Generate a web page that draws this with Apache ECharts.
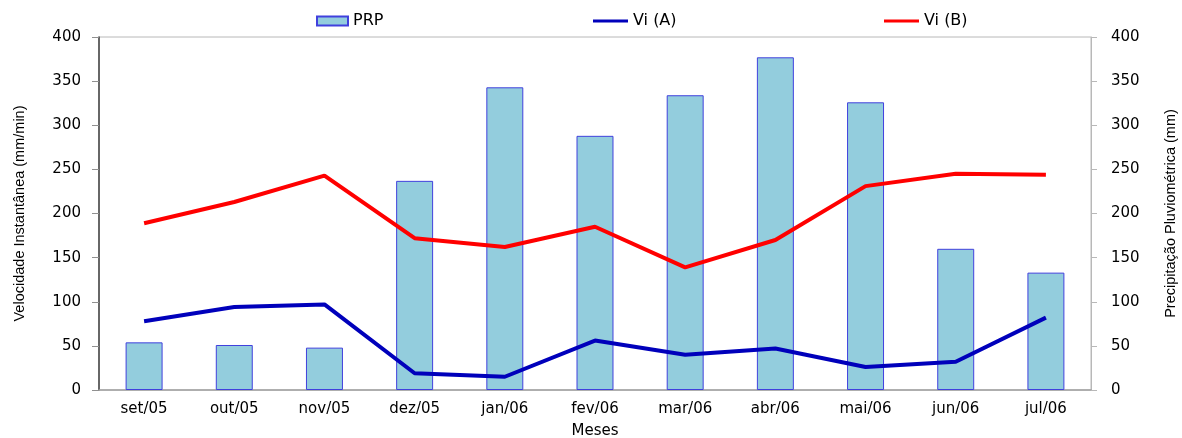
<!DOCTYPE html>
<html><head><meta charset="utf-8">
<script src="https://cdn.jsdelivr.net/npm/echarts@6/dist/echarts.min.js"></script>
<style>html,body{margin:0;padding:0;background:#fff}#c{width:1182px;height:438px}</style>
</head><body><div id="c"></div>
<script>
const categories = ['set/05','out/05','nov/05','dez/05','jan/06','fev/06','mar/06','abr/06','mai/06','jun/06','jul/06'];
const prp = [54, 51, 48, 237, 343, 288, 334, 377, 326, 160, 133];
const viA = [78, 94, 97, 19, 15, 56, 40, 47, 26, 32, 82];
const viB = [189, 213, 243, 172, 162, 185, 139, 170, 231, 245, 244];

const font = '"DejaVu Sans", Verdana, sans-serif';
const titleFont = '"Liberation Sans", Arial, sans-serif';
const chart = echarts.init(document.getElementById('c'));
const legendText = {fontFamily: font, fontSize: 16, color: '#000'};
chart.setOption({
  animation: false,
  grid: {left: 99, right: 91, top: 37, bottom: 48, show: true, borderColor: '#b8b8b8', borderWidth: 1,
         outerBoundsMode: 'none', containLabel: false},
  legend: [
    {top: 8, left: 311, data: [{name: 'PRP', icon: 'rect'}], itemWidth: 31, itemHeight: 9, itemGap: 4, textStyle: legendText},
    {top: 8, left: 588, data: [{name: 'Vi (A)', icon: 'rect'}], itemWidth: 35, itemHeight: 3, textStyle: legendText},
    {top: 8, left: 879, data: [{name: 'Vi (B)', icon: 'rect'}], itemWidth: 35, itemHeight: 3, textStyle: legendText}
  ],
  xAxis: {
    type: 'category', data: categories,
    name: 'Meses', nameLocation: 'middle', nameGap: 34,
    nameTextStyle: {fontFamily: font, fontSize: 15, color: '#000'},
    axisLine: {lineStyle: {color: '#a0a0a0', width: 1.5}},
    axisTick: {show: false},
    axisLabel: {margin: 12, fontFamily: font, fontSize: 15, color: '#000'}
  },
  yAxis: [
    {
      type: 'value', min: 0, max: 400, interval: 50, position: 'left',
      name: 'Velocidade Instantânea (mm/min)', nameLocation: 'middle', nameGap: 72,
      nameTextStyle: {fontFamily: titleFont, fontSize: 14.5, color: '#000'},
      axisLine: {show: true, lineStyle: {color: '#404040', width: 1.5}},
      axisTick: {show: true, length: 7, lineStyle: {color: '#909090'}},
      axisLabel: {margin: 18, fontFamily: font, fontSize: 15, color: '#000'},
      splitLine: {show: false}
    },
    {
      type: 'value', min: 0, max: 400, interval: 50, position: 'right',
      name: 'Precipitação Pluviométrica (mm)', nameLocation: 'middle', nameGap: 72,
      nameRotate: 90,
      nameTextStyle: {fontFamily: titleFont, fontSize: 14.5, color: '#000'},
      axisLine: {show: true, lineStyle: {color: '#b8b8b8', width: 1}},
      axisTick: {show: true, length: 6, lineStyle: {color: '#b8b8b8'}},
      axisLabel: {margin: 20, fontFamily: font, fontSize: 15, color: '#000'},
      splitLine: {show: false}
    }
  ],
  series: [
    {name: 'PRP', type: 'bar', yAxisIndex: 1, data: prp, barWidth: '41%',
     itemStyle: {color: '#93CDDD', borderColor: '#4040DD', borderWidth: 1}},
    {name: 'Vi (A)', type: 'line', yAxisIndex: 0, data: viA, showSymbol: false, symbol: 'none',
     lineStyle: {color: '#0000BB', width: 4}, itemStyle: {color: '#0000BB'}},
    {name: 'Vi (B)', type: 'line', yAxisIndex: 0, data: viB, showSymbol: false, symbol: 'none',
     lineStyle: {color: '#FF0000', width: 4}, itemStyle: {color: '#FF0000'}}
  ]
});
</script></body></html>
